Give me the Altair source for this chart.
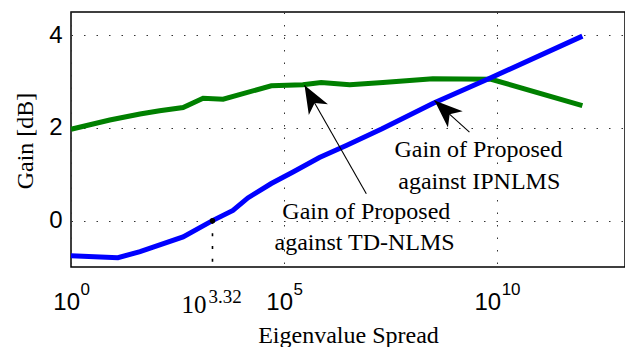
import math
import altair as alt
import pandas as pd

# ---------------- data (x given as log10 of the eigenvalue spread) ----------------
ipnlms_exp = [0.0, 1.10, 1.62, 2.63, 3.32, 3.80, 4.15, 4.70, 5.21, 5.83, 6.46, 7.30, 8.50, 9.80, 12.0]
ipnlms_gain = [-0.76, -0.80, -0.67, -0.35, 0.0, 0.22, 0.49, 0.80, 1.05, 1.36, 1.62, 1.98, 2.53, 3.06, 3.98]

tdnlms_exp = [0.0, 0.91, 1.62, 2.08, 2.63, 3.10, 3.57, 4.70, 5.44, 5.87, 6.54, 7.32, 8.49, 9.86, 12.0]
tdnlms_gain = [1.97, 2.17, 2.30, 2.37, 2.44, 2.64, 2.62, 2.91, 2.93, 2.98, 2.93, 2.98, 3.06, 3.05, 2.48]

x_tick_exp = [0, 5, 10]
y_ticks = [0, 2, 4]
x_domain_exp = [0, 13]
y_domain = [-1, 4.5]

marker_exp = 3.32
marker_gain = 0.0
marker_base = "10"
marker_sup = "3.32"

ann_text = ["Gain of Proposed", "against TD-NLMS", "Gain of Proposed", "against IPNLMS"]
ann_exp = [6.93, 6.89, 9.56, 9.58]
ann_gain = [0.04, -0.64, 1.37, 0.69]

arrow_tip_exp = [5.48, 8.53]
arrow_tip_gain = [2.92, 2.59]
arrow_tail_exp = [6.93, 9.35]
arrow_tail_gain = [0.58, 1.91]

# ---------------- layout ----------------
W, H = 554, 255
SERIF = "Liberation Serif"
SANS = "Liberation Sans"

ipnlms = pd.DataFrame({"spread": [10.0 ** e for e in ipnlms_exp], "gain": ipnlms_gain})
tdnlms = pd.DataFrame({"spread": [10.0 ** e for e in tdnlms_exp], "gain": tdnlms_gain})
marker = pd.DataFrame({"spread": [10.0 ** marker_exp], "gain": [marker_gain], "floor": [y_domain[0]],
                       "base": [marker_base], "sup": [marker_sup]})
ticks = pd.DataFrame({"spread": [10.0 ** e for e in x_tick_exp], "sup": [str(e) for e in x_tick_exp],
                      "ndig": [len(str(e)) for e in x_tick_exp]})
ann = pd.DataFrame({"spread": [10.0 ** e for e in ann_exp], "gain": ann_gain, "txt": ann_text})

px_dec = W / (x_domain_exp[1] - x_domain_exp[0])
px_unit = H / (y_domain[1] - y_domain[0])
angles = []
for te, tg, ae, ag in zip(arrow_tip_exp, arrow_tip_gain, arrow_tail_exp, arrow_tail_gain):
    dx = (te - ae) * px_dec
    dy = -(tg - ag) * px_unit
    angles.append(math.degrees(math.atan2(dx, -dy)) % 360)
arrows = pd.DataFrame({
    "spread": [10.0 ** e for e in arrow_tip_exp], "gain": arrow_tip_gain,
    "spread2": [10.0 ** e for e in arrow_tail_exp], "gain2": arrow_tail_gain,
    "ang": angles,
})

X = alt.X(
    "spread:Q",
    scale=alt.Scale(type="log", domain=[10.0 ** x_domain_exp[0], 10.0 ** x_domain_exp[1]], nice=False),
    axis=alt.Axis(
        values=[10.0 ** e for e in x_tick_exp], labels=False, ticks=False, tickSize=0, domain=False,
        grid=True, title="Eigenvalue Spread", titleFont=SERIF, titleFontSize=24,
        titleFontWeight="normal", titleColor="black", titleBaseline="alphabetic", titleY=75,
    ),
)
Y = alt.Y(
    "gain:Q",
    scale=alt.Scale(domain=y_domain, nice=False, zero=False),
    axis=alt.Axis(
        values=y_ticks, ticks=False, tickSize=0, domain=False, grid=True,
        labelFont=SANS, labelFontSize=24, labelColor="black", labelPadding=9,
        title="Gain [dB]", titleFont=SERIF, titleFontSize=24, titleFontWeight="normal",
        titleColor="black", titleAngle=270, titleBaseline="alphabetic", titleAlign="center",
        titleX=-39, titleY=128.5,
    ),
)

green = alt.Chart(tdnlms).mark_line(color="#008000", strokeWidth=5).encode(x=X, y=Y)
blue = alt.Chart(ipnlms).mark_line(color="#0000ff", strokeWidth=5).encode(x=X, y=Y)

dash = alt.Chart(marker).mark_rule(color="black", strokeWidth=1.6, strokeDash=[3, 9.7]).encode(
    x=X, y=Y, y2="floor:Q")
dot = alt.Chart(marker).mark_circle(color="black", size=30, opacity=1).encode(x=X, y=Y)

m_base = alt.Chart(marker).mark_text(font=SERIF, fontSize=25, align="right", baseline="alphabetic",
                                     dx=-6, color="black").encode(x=X, y=alt.value(301), text="base:N")
m_sup = alt.Chart(marker).mark_text(font=SERIF, fontSize=19, align="left", baseline="alphabetic",
                                    dx=-4, color="black").encode(x=X, y=alt.value(291), text="sup:N")

t1_base = alt.Chart(ticks).transform_filter("datum.ndig == 1").mark_text(
    font=SANS, fontSize=24, align="right", baseline="alphabetic", dx=9, color="black", text="10"
).encode(x=X, y=alt.value(298))
t1_sup = alt.Chart(ticks).transform_filter("datum.ndig == 1").mark_text(
    font=SANS, fontSize=17, align="left", baseline="alphabetic", dx=9.5, color="black"
).encode(x=X, y=alt.value(283), text="sup:N")
t2_base = alt.Chart(ticks).transform_filter("datum.ndig == 2").mark_text(
    font=SANS, fontSize=24, align="right", baseline="alphabetic", dx=4, color="black", text="10"
).encode(x=X, y=alt.value(298))
t2_sup = alt.Chart(ticks).transform_filter("datum.ndig == 2").mark_text(
    font=SANS, fontSize=17, align="left", baseline="alphabetic", dx=4.5, color="black"
).encode(x=X, y=alt.value(283), text="sup:N")

arrow_lines = alt.Chart(arrows).mark_rule(color="black", strokeWidth=1.1).encode(
    x=X, y=Y, x2="spread2:Q", y2="gain2:Q")
head_path = "M0,0 L0.55,1.4 L0,1.02 L-0.55,1.4 Z"
arrow_heads = alt.Chart(arrows).mark_point(
    shape=head_path, filled=True, size=1600, color="black", opacity=1, strokeWidth=0
).encode(x=X, y=Y, angle=alt.Angle("ang:Q", scale=None))

labels = alt.Chart(ann).mark_text(font=SERIF, fontSize=24, align="center", baseline="alphabetic",
                                  color="black").encode(x=X, y=Y, text="txt:N")

chart = alt.layer(
    green, blue, dash, dot, arrow_lines, arrow_heads, labels,
    m_base, m_sup, t1_base, t1_sup, t2_base, t2_sup,
).properties(
    width=W, height=H,
    autosize=alt.AutoSizeParams(type="none"),
    padding={"left": 71, "top": 12, "right": 0, "bottom": 80},
    background="white",
).configure_view(
    stroke="black", strokeWidth=1.5
).configure_axis(
    gridColor="#333333", gridDash=[1.5, 11], gridWidth=1, gridOpacity=1,
)

chart.save("out.html", embed_options={"renderer": "svg", "actions": False})
